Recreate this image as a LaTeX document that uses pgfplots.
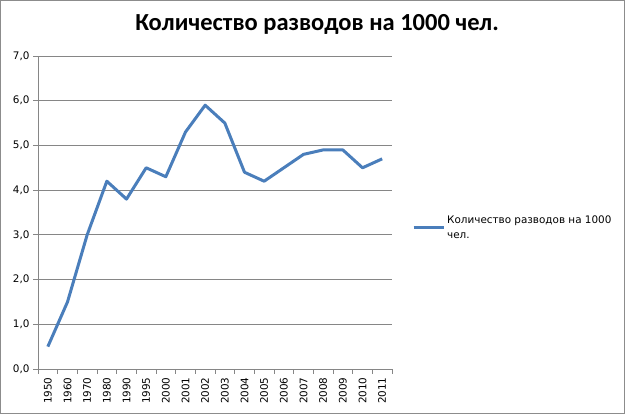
\documentclass[border=0pt]{standalone}
\usepackage{fontspec}
\setmainfont{DejaVu Sans}
\newfontfamily\titlefont{Carlito}
\usepackage{pgfplots}
\usepackage{pgfplotstable}
\pgfplotsset{compat=1.18}
\definecolor{seriesblue}{HTML}{4A7EBB}
\definecolor{gridgray}{HTML}{868686}
\definecolor{framegray}{HTML}{8C8C8C}

\pgfplotstableread{
idx year value
0  1950 0.5
1  1960 1.5
2  1970 3.0
3  1980 4.2
4  1990 3.8
5  1995 4.5
6  2000 4.3
7  2001 5.3
8  2002 5.9
9  2003 5.5
10 2004 4.4
11 2005 4.2
12 2006 4.5
13 2007 4.8
14 2008 4.9
15 2009 4.9
16 2010 4.5
17 2011 4.7
}\divorces

\begin{document}
\begin{tikzpicture}
\useasboundingbox (0pt,0pt) rectangle (625pt,-414pt);
\draw[framegray, line width=1pt] (0.5pt,-0.5pt) rectangle (624.5pt,-413.5pt);
\node[font=\titlefont\bfseries\fontsize{24.5}{28}\selectfont] at (317pt,-24pt) {Количество разводов на 1000 чел.};
\begin{axis}[
    at={(38pt,-369pt)}, anchor=south west,
    scale only axis, width=354pt, height=313pt,
    xmin=-0.5, xmax=17.5, ymin=0, ymax=7,
    axis x line=bottom, axis y line=left,
    axis line style={-, gridgray, line width=0.75pt},
    ymajorgrids, grid style={gridgray, line width=0.75pt},
    tick align=outside,
    major tick length=5pt, minor tick length=5pt,
    tick style={gridgray, line width=0.75pt},
    xtick={0,...,17},
    xticklabels from table={\divorces}{year},
    major x tick style={draw=none},
    minor xtick={-0.5,0.5,...,17.5},
    ytick={0,...,7},
    /pgf/number format/fixed,
    /pgf/number format/fixed zerofill,
    /pgf/number format/precision=1,
    /pgf/number format/use comma,
    /pgf/number format/assume math mode=true,
    tick label style={font=\fontsize{10.4}{12}\selectfont, text=black},
    x tick label style={rotate=90, anchor=east},
    legend style={draw=none, fill=none, inner sep=0pt,
        at={(1.0565,0.498)}, anchor=north west,
        cells={align=left, font=\fontsize{10.4}{15}\selectfont}},
    legend image code/.code={\draw[#1] (0pt,0pt) -- (30pt,0pt);},
    ]
\addplot[seriesblue, line width=3pt, line join=round, no marks] table[x=idx, y=value] {\divorces};
\legend{Количество разводов на 1000\\чел.}
\end{axis}
\end{tikzpicture}
\end{document}
